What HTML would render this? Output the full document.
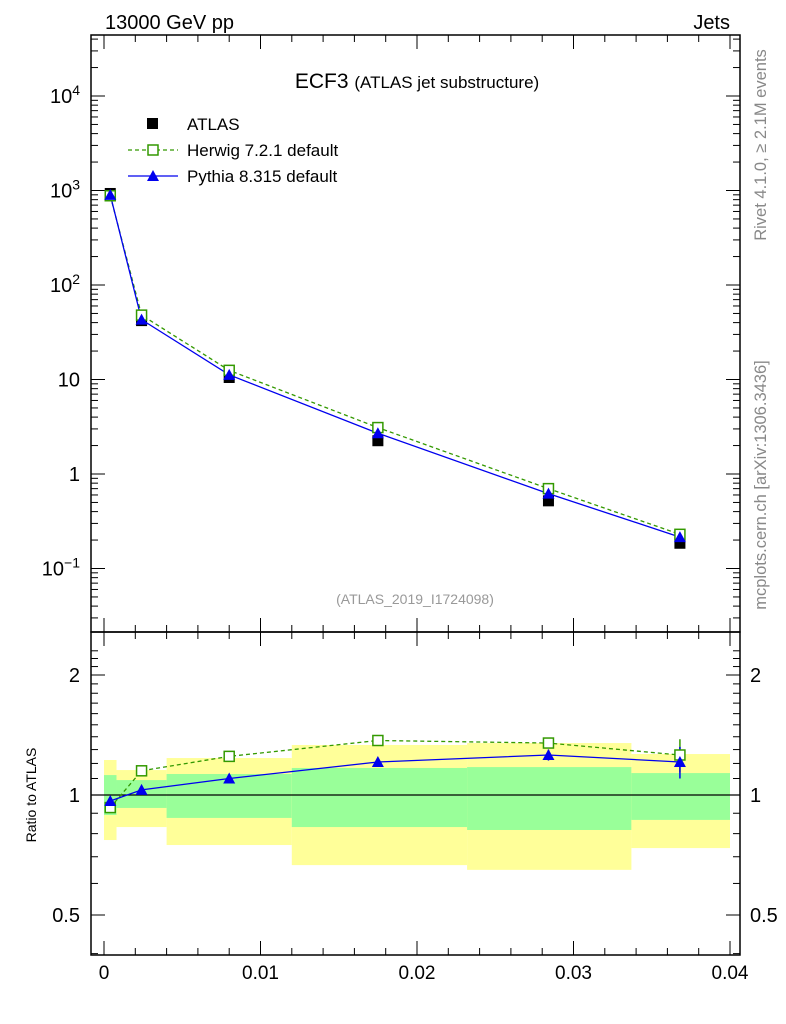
<!DOCTYPE html>
<html><head><meta charset="utf-8"><style>
body{margin:0;background:#fff;}
svg{display:block;font-family:"Liberation Sans",sans-serif;}
</style></head><body>
<svg id="chart" width="786" height="1024" viewBox="0 0 786 1024">
<g id="bands"></g>
<g id="axes"></g>
<g id="series"></g>
<text x="105" y="29" font-size="20">13000 GeV pp</text>
<text x="730" y="29" font-size="20" text-anchor="end">Jets</text>
<text x="417" y="88" font-size="21" text-anchor="middle">ECF3 <tspan font-size="17">(ATLAS jet substructure)</tspan></text>
<text x="415" y="604" font-size="14" fill="#999" text-anchor="middle">(ATLAS_2019_I1724098)</text>
<text transform="translate(766,145) rotate(-90)" font-size="16.5" fill="#888" text-anchor="middle">Rivet 4.1.0, ≥ 2.1M events</text>
<text transform="translate(766,485) rotate(-90)" font-size="16.5" fill="#888" text-anchor="middle">mcplots.cern.ch [arXiv:1306.3436]</text>
<text transform="translate(36,795) rotate(-90)" font-size="14" text-anchor="middle">Ratio to ATLAS</text>
<g>
<rect x="147" y="118" width="11" height="11" fill="#000"/>
<text x="187" y="130" font-size="17">ATLAS</text>
<line x1="128" y1="150" x2="178" y2="150" stroke="#339900" stroke-width="1.2" stroke-dasharray="4,3"/>
<rect x="148" y="145" width="10" height="10" fill="#fff" stroke="#339900" stroke-width="1.5"/>
<text x="187" y="156" font-size="17">Herwig 7.2.1 default</text>
<line x1="128" y1="176" x2="178" y2="176" stroke="#0000ee" stroke-width="1.2"/>
<polygon points="153,170 159,181 147,181" fill="#0000ee"/>
<text x="187" y="182" font-size="17">Pythia 8.315 default</text>
</g>
</svg>
<script>
const xCenters=[0.0004,0.0024,0.008,0.0175,0.0284,0.0368];
const binEdges=[0,0.0008,0.004,0.012,0.0232,0.0337,0.04];
const atlasVals=[930,42,10.5,2.25,0.52,0.185];
const herwigVals=[880,48,12.5,3.1,0.70,0.23];
const pythiaVals=[900,43,11.2,2.7,0.62,0.215];
const herwigRatio=[0.93,1.15,1.25,1.37,1.35,1.26];
const pythiaRatio=[0.966,1.03,1.10,1.21,1.26,1.21];
const yellowHi=[1.224,1.155,1.238,1.335,1.35,1.267];
const yellowLo=[0.771,0.831,0.749,0.667,0.649,0.736];
const greenHi=[1.122,1.09,1.129,1.169,1.175,1.135];
const greenLo=[0.891,0.928,0.876,0.831,0.817,0.866];
const pythiaRatioErr=[0.005,0.005,0.006,0.01,0.04,0.11];
const herwigRatioErr=[0.005,0.005,0.006,0.01,0.04,0.12];
const xTicks=[0,0.01,0.02,0.03,0.04];
const xTickLabels=["0","0.01","0.02","0.03","0.04"];
const yMainTicks=[-1,0,1,2,3,4];
const ratioTicks=[0.5,1,2];

const NS="http://www.w3.org/2000/svg";
const L=91,R=740,T=35,MB=632,RB=955;
const X=v=>104+v*(730-104)/0.04;
const Y=v=>474-94.5*Math.log10(v);
const YR=v=>795-120*Math.log2(v);
function mk(parent,tag,attrs){const e=document.createElementNS(NS,tag);for(const k in attrs)e.setAttribute(k,attrs[k]);document.getElementById(parent).appendChild(e);return e;}

for(let i=0;i<6;i++){
 const x1=X(binEdges[i]),x2=X(binEdges[i+1]);
 let e=mk('bands','rect',{x:x1,y:YR(yellowHi[i]),width:x2-x1,height:YR(yellowLo[i])-YR(yellowHi[i]),fill:'#ffff99'});
 
 
 e=mk('bands','rect',{x:x1,y:YR(greenHi[i]),width:x2-x1,height:YR(greenLo[i])-YR(greenHi[i]),fill:'#99ff99'});
 
 
}
mk('bands','line',{x1:L,x2:R,y1:YR(1),y2:YR(1),stroke:'#000','stroke-width':1.2});

let f=mk('axes','rect',{x:L,y:T,width:R-L,height:MB-T,fill:'none',stroke:'#000','stroke-width':1.5});


f=mk('axes','rect',{x:L,y:MB,width:R-L,height:RB-MB,fill:'none',stroke:'#000','stroke-width':1.5});



for(let v=0;v<=0.0401;v+=0.002){
 const major=Math.abs(v/0.01-Math.round(v/0.01))<1e-6;const h=major?14:7;const x=X(v);
 [[T,1],[MB,-1],[MB,1],[RB,-1]].forEach(([y,d])=>mk('axes','line',{x1:x,x2:x,y1:y,y2:y+d*h,stroke:'#000','stroke-width':1}));
}
xTicks.forEach((v,i)=>{const t=mk('axes','text',{x:X(v),y:979,'font-size':19,'text-anchor':'middle'});t.textContent=xTickLabels[i];
 
 });

for(let d=-2;d<=4;d++){for(let m=1;m<10;m++){const v=m*Math.pow(10,d);const y=Y(v);if(y<T||y>MB)continue;const h=m==1?14:7;
 mk('axes','line',{x1:L,x2:L+h,y1:y,y2:y,stroke:'#000'});mk('axes','line',{x1:R,x2:R-h,y1:y,y2:y,stroke:'#000'});}}
yMainTicks.forEach(p=>{const t=mk('axes','text',{x:80,y:Y(Math.pow(10,p))+7,'font-size':20,'text-anchor':'end'});
 if(p==0)t.textContent='1';else if(p==1)t.textContent='10';else{t.innerHTML='10<tspan dy="-8" font-size="14">'+(p<0?'−1':p)+'</tspan>';}
 
 });

for(let v=0.4;v<=2.35;v+=0.1){const y=YR(v);if(y<MB||y>RB)continue;const maj=[0.5,1,2].some(a=>Math.abs(a-v)<1e-6);const h=maj?14:7;
 mk('axes','line',{x1:L,x2:L+h,y1:y,y2:y,stroke:'#000'});mk('axes','line',{x1:R,x2:R-h,y1:y,y2:y,stroke:'#000'});}
ratioTicks.forEach(v=>{[[80,'end'],[750,'start']].forEach(([x,a])=>{const t=mk('axes','text',{x:x,y:YR(v)+7,'font-size':20,'text-anchor':a});t.textContent=String(v);
 
 });});

function poly(vals,yf,color,dash,name){const p=mk('series','polyline',{points:xCenters.map((x,i)=>X(x)+','+yf(vals[i])).join(' '),fill:'none',stroke:color,'stroke-width':1.3});if(dash)p.setAttribute('stroke-dasharray',dash);
 
 }
function squares(vals,yf,name){xCenters.forEach((x,i)=>{const r=mk('series','rect',{x:X(x)-5,y:yf(vals[i])-5,width:10,height:10,fill:'#fff',stroke:'#339900','stroke-width':1.5});
 
 });}
function tris(vals,yf,name){xCenters.forEach((x,i)=>{const cx=X(x),cy=yf(vals[i]);const p=mk('series','polygon',{points:`${cx},${cy-6} ${cx+6},${cy+5} ${cx-6},${cy+5}`,fill:'#0000ee'});
 
 });}
xCenters.forEach((x,i)=>{const r=mk('series','rect',{x:X(x)-5.5,y:Y(atlasVals[i])-5.5,width:11,height:11,fill:'#000'});
 
 });
poly(herwigVals,Y,'#339900','4,3','herwig-line');
poly(pythiaVals,Y,'#0000ee',null,'pythia-line');
squares(herwigVals,Y,'herwig-point');
tris(pythiaVals,Y,'pythia-point');

xCenters.forEach((x,i)=>{
 mk('series','line',{x1:X(x),x2:X(x),y1:YR(herwigRatio[i]+herwigRatioErr[i]),y2:YR(herwigRatio[i]-herwigRatioErr[i]),stroke:'#339900','stroke-width':1.5});
 mk('series','line',{x1:X(x),x2:X(x),y1:YR(pythiaRatio[i]+pythiaRatioErr[i]),y2:YR(pythiaRatio[i]-pythiaRatioErr[i]),stroke:'#0000ee','stroke-width':1.5});
});
poly(herwigRatio,YR,'#339900','4,3','herwig-ratio-line');
poly(pythiaRatio,YR,'#0000ee',null,'pythia-ratio-line');
squares(herwigRatio,YR,'herwig-ratio-point');
tris(pythiaRatio,YR,'pythia-ratio-point');
</script>
</body></html>
